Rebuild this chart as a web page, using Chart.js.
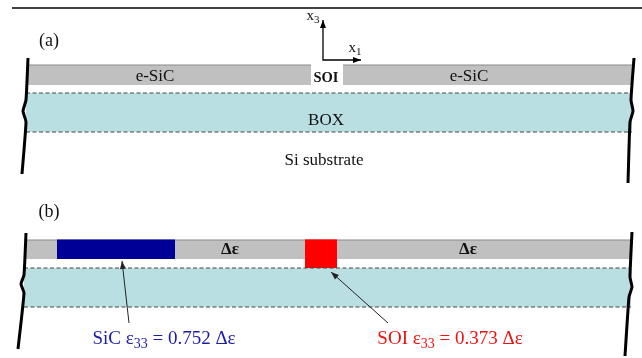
<!DOCTYPE html>
<html>
<head>
<meta charset="utf-8">
<script src="https://cdn.jsdelivr.net/npm/chart.js@4.4.0/dist/chart.umd.min.js"></script>
<style>
html,body{margin:0;padding:0;background:#fff;}
#wrap{width:642px;height:358px;position:relative;}
</style>
</head>
<body>
<div id="wrap"><canvas id="c"></canvas></div>
<script>
// ---- diagram geometry (diagram units, mapped through the chart scales) ----
const viewX = [0, 642];
const viewY = [0, 358];

// layer rectangles: [x0, x1, yTop, yBottom]
const rectNames  = ['SiC-a-left', 'SiC-a-right', 'BOX-a', 'SiC-b', 'BOX-b', 'SiC-eps', 'SOI-eps'];
const rectX0     = [28, 343, 26, 26, 24, 57, 305];
const rectX1     = [311, 632, 632, 632, 631, 175, 337];
const rectTop    = [65, 65, 93, 240, 268, 240, 240];
const rectBottom = [85, 85, 132, 259, 307, 259, 268];
const rectFill   = ['#c0c0c0', '#c0c0c0', '#badfe3', '#c0c0c0', '#badfe3', '#000096', '#ff0000'];
const rectEdge   = ['#8a8a8a', '#8a8a8a', 'rgba(0,0,0,0)', '#8a8a8a', 'rgba(0,0,0,0)', '#000096', '#ff0000'];

// dashed interfaces: y levels, x extent
const dashY  = [93, 132, 268, 307];
const dashX0 = [26, 26, 24, 24];
const dashX1 = [632, 632, 631, 631];

// break (wavy) lines
const breakLines = [
  [[28,58],[26,100],[23,111],[26,122],[22,174]],
  [[634,58],[631,100],[633,111],[630,122],[628,183]],
  [[26,233],[24,275],[21,284],[24,293],[18,349]],
  [[632,232],[630,277],[632,287],[629,297],[625,356]]
];

// top rule
const ruleX = [12, 642];
const ruleY = 8;

// coordinate axes glyph
const axisOrigin = [323, 60];
const axisX3Tip  = [323, 20];
const axisX1Tip  = [361, 60];

// annotation arrows: [from, to]
const arrows = [
  [[129, 323], [122, 261]],
  [[388, 323], [331, 272]]
];

// labels: segments [text, isSubscript]
const labels = [
  {seg:[['(a)',0]], x:49, y:41, size:18, bold:false, color:'#111'},
  {seg:[['(b)',0]], x:49, y:212, size:18, bold:false, color:'#111'},
  {seg:[['x',0],['3',1]], x:313, y:16, size:15, bold:false, color:'#111'},
  {seg:[['x',0],['1',1]], x:355, y:48, size:15, bold:false, color:'#111'},
  {seg:[['e-SiC',0]], x:155, y:77, size:17, bold:false, color:'#111'},
  {seg:[['e-SiC',0]], x:469, y:77, size:17, bold:false, color:'#111'},
  {seg:[['SOI',0]], x:326, y:78, size:14.5, bold:true, color:'#111'},
  {seg:[['BOX',0]], x:326, y:121, size:17, bold:false, color:'#111'},
  {seg:[['Si substrate',0]], x:324, y:161, size:17, bold:false, color:'#111'},
  {seg:[['\u0394\u03b5',0]], x:230, y:250, size:17, bold:true, color:'#111'},
  {seg:[['\u0394\u03b5',0]], x:468, y:250, size:17, bold:true, color:'#111'},
  {seg:[['SiC \u03b5',0],['33',1],[' = 0.752 \u0394\u03b5',0]], x:164, y:339, size:19, bold:false, color:'#1c1ca8'},
  {seg:[['SOI \u03b5',0],['33',1],[' = 0.373 \u0394\u03b5',0]], x:450, y:339, size:19, bold:false, color:'#ee1111'}
];

// ---- build datasets ----
const datasets = [];
for (let i = 0; i < rectNames.length; i++) {
  datasets.push({
    label: rectNames[i],
    type: 'line',
    data: [{x: rectX0[i], y: rectTop[i]}, {x: rectX1[i], y: rectTop[i]}],
    fill: {value: rectBottom[i]},
    backgroundColor: rectFill[i],
    borderColor: rectEdge[i],
    borderWidth: 1.2,
    pointRadius: 0,
    order: 10 - (i >= 5 ? 2 : 0)
  });
}
for (let i = 0; i < dashY.length; i++) {
  datasets.push({
    label: 'dash' + i, type: 'line',
    data: [{x: dashX0[i], y: dashY[i]}, {x: dashX1[i], y: dashY[i]}],
    borderColor: '#444', borderWidth: 1, borderDash: [4, 2.5],
    pointRadius: 0, fill: false, order: 5
  });
}
breakLines.forEach((pts, i) => {
  datasets.push({
    label: 'break' + i, type: 'line',
    data: pts.map(p => ({x: p[0], y: p[1]})),
    borderColor: '#000', borderWidth: 3, tension: 0.15,
    pointRadius: 0, fill: false, order: 1
  });
});
datasets.push({
  label: 'rule', type: 'line',
  data: [{x: ruleX[0], y: ruleY}, {x: ruleX[1], y: ruleY}],
  borderColor: '#000', borderWidth: 1.5, pointRadius: 0, fill: false, order: 1
});
datasets.push({
  label: 'axis', type: 'line', arrow: true, arrowBoth: true,
  data: [{x: axisX3Tip[0], y: axisX3Tip[1]}, {x: axisOrigin[0], y: axisOrigin[1]}, {x: axisX1Tip[0], y: axisX1Tip[1]}],
  borderColor: '#000', borderWidth: 1.3, pointRadius: 0, fill: false, order: 1
});
arrows.forEach((a, i) => {
  datasets.push({
    label: 'arrow' + i, type: 'line', arrow: true,
    data: [{x: a[0][0], y: a[0][1]}, {x: a[1][0], y: a[1][1]}],
    borderColor: '#222', borderWidth: 1, pointRadius: 0, fill: false, order: 1
  });
});

function headAt(ctx, tip, from, len, wid, color) {
  const ang = Math.atan2(tip.y - from.y, tip.x - from.x);
  ctx.save();
  ctx.translate(tip.x, tip.y);
  ctx.rotate(ang);
  ctx.fillStyle = color;
  ctx.beginPath();
  ctx.moveTo(0, 0);
  ctx.lineTo(-len, -wid / 2);
  ctx.lineTo(-len, wid / 2);
  ctx.closePath();
  ctx.fill();
  ctx.restore();
}

const overlay = {
  id: 'overlay',
  afterDatasetsDraw(chart) {
    const ctx = chart.ctx;
    const xs = chart.scales.x, ys = chart.scales.y;
    chart.data.datasets.forEach((ds, i) => {
      if (!ds.arrow) return;
      const pts = chart.getDatasetMeta(i).data;
      const n = pts.length;
      headAt(ctx, pts[n - 1], pts[n - 2], 8, 6, ds.borderColor);
      if (ds.arrowBoth) headAt(ctx, pts[0], pts[1], 8, 6, ds.borderColor);
    });
    labels.forEach(l => {
      const base = (l.bold ? 'bold ' : '') + l.size + 'px "Liberation Serif", "Times New Roman", serif';
      const sub = (l.bold ? 'bold ' : '') + Math.round(l.size * 0.72) + 'px "Liberation Serif", "Times New Roman", serif';
      let total = 0;
      l.seg.forEach(s => { ctx.font = s[1] ? sub : base; total += ctx.measureText(s[0]).width; });
      let px = xs.getPixelForValue(l.x) - total / 2;
      const py = ys.getPixelForValue(l.y);
      ctx.save();
      ctx.fillStyle = l.color;
      ctx.textBaseline = 'middle';
      ctx.textAlign = 'left';
      l.seg.forEach(s => {
        ctx.font = s[1] ? sub : base;
        ctx.fillText(s[0], px, py + (s[1] ? l.size * 0.3 : 0));
        px += ctx.measureText(s[0]).width;
      });
      ctx.restore();
    });
  }
};

new Chart(document.getElementById('c'), {
  type: 'scatter',
  data: {datasets},
  options: {
    responsive: true,
    maintainAspectRatio: false,
    animation: false,
    layout: {padding: 0},
    plugins: {legend: {display: false}, tooltip: {enabled: false}},
    scales: {
      x: {type: 'linear', min: viewX[0], max: viewX[1], display: false},
      y: {type: 'linear', min: viewY[0], max: viewY[1], reverse: true, display: false}
    }
  },
  plugins: [overlay]
});
</script>
</body>
</html>
